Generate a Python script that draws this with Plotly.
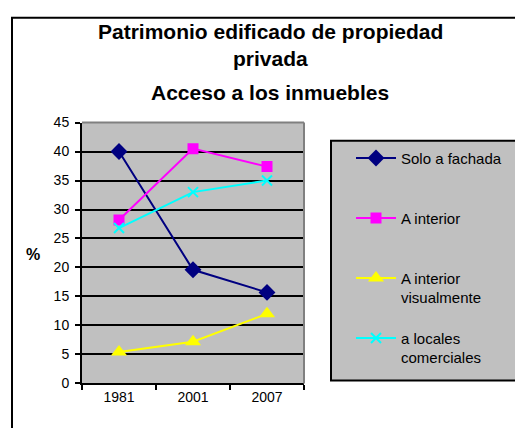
import plotly.graph_objects as go

years = ["1981", "2001", "2007"]
solo_fachada = [40.0, 19.6, 15.7]
a_interior = [28.2, 40.5, 37.4]
a_interior_visual = [5.4, 7.2, 12.0]
a_locales = [26.8, 33.0, 35.0]

series_names = ["Solo a fachada<br> ", "A interior<br> ", "A interior<br>visualmente", "a locales<br>comerciales"]
y_ticks = [0, 5, 10, 15, 20, 25, 30, 35, 40, 45]
title_lines = ["Patrimonio edificado de propiedad", "privada", "Acceso a los inmuebles"]

W, H = 515, 428
FONT = "Liberation Sans, Arial, sans-serif"

def px_x(v):
    return v / W

def px_y(v):
    return 1 - v / H

fig = go.Figure()

styles = [
    dict(color="#000080", symbol="diamond", size=13),
    dict(color="#FF00FF", symbol="square", size=11),
    dict(color="#FFFF00", symbol="triangle-up", size=14),
    dict(color="#00FFFF", symbol="x-thin", size=10),
]
for i, (name, vals) in enumerate(zip(series_names, [solo_fachada, a_interior, a_interior_visual, a_locales])):
    st = styles[i]
    marker = dict(color=st["color"], symbol=st["symbol"], size=st["size"])
    if st["symbol"] == "x-thin":
        marker["line"] = dict(color=st["color"], width=2)
    fig.add_trace(go.Scatter(
        x=years, y=vals, name=name, mode="lines+markers",
        line=dict(color=st["color"], width=2),
        marker=marker, legendgroup=f"g{i}",
    ))

lx0, ly0, ly1 = px_x(331), px_y(387), px_y(138)
legend_frame = f"M 1.2 {ly1} L {lx0} {ly1} L {lx0} {ly0} L 1.2 {ly0}"

fig.update_layout(
    width=W, height=H, autosize=False,
    margin=dict(l=0, r=0, t=0, b=0),
    paper_bgcolor="white", plot_bgcolor="#C0C0C0",
    font=dict(family=FONT, size=14, color="black"),
    showlegend=True,
    legend=dict(
        x=px_x(351), y=px_y(139), xanchor="left", yanchor="top",
        bgcolor="rgba(0,0,0,0)", borderwidth=0,
        font=dict(family=FONT, size=15, color="black"),
        tracegroupgap=18, valign="top", itemwidth=40,
    ),
    xaxis=dict(
        domain=[px_x(82), px_x(304)], type="category",
        range=[-0.5, 2.5], tickson="boundaries",
        ticks="outside", ticklen=5, tickcolor="black", tickwidth=1.5,
        showline=True, linecolor="black", linewidth=2,
        showgrid=False, zeroline=False,
        tickfont=dict(family=FONT, size=14),
    ),
    yaxis=dict(
        domain=[px_y(390), px_y(119)], range=[0, 45],
        tickvals=y_ticks, ticks="outside", ticklen=5, tickcolor="black", tickwidth=1.5,
        ticklabelstandoff=3,
        showline=True, linecolor="black", linewidth=2,
        showgrid=True, gridcolor="black", gridwidth=2,
        zeroline=False, tickfont=dict(family=FONT, size=14),
    ),
    shapes=[
        dict(type="path", xref="paper", yref="paper",
             path=f"M 1.2 {px_y(10)} L {px_x(12)} {px_y(10)} L {px_x(12)} -0.2",
             line=dict(color="black", width=2), layer="below"),
        dict(type="line", xref="x domain", yref="y domain", x0=0, x1=1, y0=1, y1=1,
             line=dict(color="#808080", width=2), layer="above"),
        dict(type="line", xref="x domain", yref="y domain", x0=1, x1=1, y0=0, y1=1,
             line=dict(color="#808080", width=2), layer="above"),
        dict(type="rect", xref="paper", yref="paper",
             x0=lx0, x1=1.2, y0=ly0, y1=ly1,
             line=dict(width=0), fillcolor="#C0C0C0", layer="below"),
        dict(type="path", xref="paper", yref="paper", path=legend_frame,
             line=dict(color="black", width=2), layer="below"),
    ],
)

title_y = [24, 52, 88]
for txt, yy in zip(title_lines, title_y):
    fig.add_annotation(text=f"<b>{txt}</b>", x=px_x(270), y=px_y(yy), xref="paper", yref="paper",
                       xanchor="center", yanchor="middle", showarrow=False,
                       font=dict(family=FONT, size=21, color="black"))

fig.add_annotation(text="<b>%</b>", x=px_x(33), y=px_y(256), xref="paper", yref="paper",
                   xanchor="center", yanchor="middle", showarrow=False,
                   font=dict(family=FONT, size=16, color="black"))

fig.write_html("out.html", config={"displayModeBar": False},
               post_script="document.body.style.margin='0';")
